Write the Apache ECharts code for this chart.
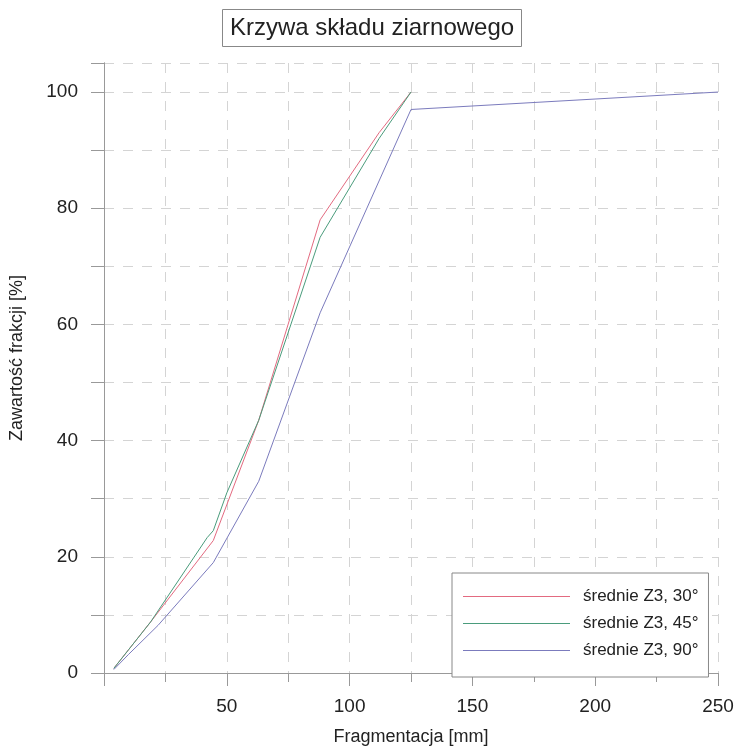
<!DOCTYPE html>
<html>
<head>
<meta charset="utf-8">
<title>Krzywa składu ziarnowego</title>
<script src="https://cdn.jsdelivr.net/npm/echarts@6/dist/echarts.min.js"></script>
<style>
    html, body { margin: 0; padding: 0; background: #fff; }
    #chart { width: 737px; height: 751px; }
</style>
</head>
<body>
<div id="chart"></div>
<script>
// dane
var seriesNames = ['średnie Z3, 30°', 'średnie Z3, 45°', 'średnie Z3, 90°'];
var x30 = [4, 10, 19, 44.5, 63, 88, 112, 125];
var y30 = [0.8, 4, 8.8, 22.8, 43.5, 78, 93, 100];
var x45 = [4, 10, 19, 42, 44.5, 50, 63, 88, 112, 125];
var y45 = [0.8, 4, 8.8, 23.3, 24.5, 31, 43.5, 75, 92, 100];
var x90 = [4, 10, 22, 44.5, 63, 88, 125, 250];
var y90 = [0.6, 3.2, 8.2, 19, 33, 62, 97, 100];
var colors = ['#e36a80', '#4a9c7c', '#7b7bbd'];

function pairs(xs, ys) {
    var out = [];
    for (var i = 0; i < xs.length; i++) {
        out.push([xs[i], ys[i]]);
    }
    return out;
}

var fontName = 'Liberation Sans, Arial, sans-serif';
var gridDash = { color: '#d4d4d4', type: [10, 9], width: 1 };

// pozycje legendy z kolorami serii
var legendData = [];
for (var k = 0; k < seriesNames.length; k++) {
    legendData.push({ name: seriesNames[k], icon: 'rect', itemStyle: { color: colors[k], borderWidth: 0 } });
}

var chart = echarts.init(document.getElementById('chart'), null, { renderer: 'canvas' });
var option = {
    animation: false,
    backgroundColor: '#fff',
    textStyle: { fontFamily: fontName },
    title: {
        text: 'Krzywa składu ziarnowego',
        left: 222,
        top: 9,
        padding: [7, 8, 7, 8],
        borderColor: '#888',
        borderWidth: 1,
        textStyle: { fontFamily: fontName, fontSize: 24, fontWeight: 'normal', color: '#222' }
    },
    legend: {
        orient: 'vertical',
        left: 452,
        top: 573,
        padding: [15, 10, 18, 11],
        itemWidth: 107,
        itemHeight: 1,
        itemGap: 10,
        backgroundColor: '#fff',
        borderColor: '#888',
        borderWidth: 1,
        textStyle: { fontFamily: fontName, fontSize: 17, color: '#222', padding: [0, 0, 0, 8] },
        data: legendData
    },
    grid: { left: 104, right: 19, top: 63, bottom: 77, containLabel: false },
    xAxis: [{
        type: 'value',
        min: 0,
        max: 250,
        interval: 50,
        name: 'Fragmentacja [mm]',
        nameLocation: 'middle',
        nameGap: 55,
        nameTextStyle: { fontFamily: fontName, fontSize: 18, color: '#222' },
        axisLine: { show: true, lineStyle: { color: '#999', width: 1 } },
        axisTick: { show: true, length: 13, lineStyle: { color: '#999' } },
        minorTick: { show: true, splitNumber: 2, length: 6, lineStyle: { color: '#999' } },
        axisLabel: {
            margin: 24,
            fontSize: 19,
            color: '#222',
            formatter: function (v) { return v === 0 ? '' : String(v); }
        },
        splitLine: { show: true, lineStyle: gridDash },
        minorSplitLine: { show: true, lineStyle: gridDash }
    }, {
        type: 'value',
        position: 'top',
        min: 0,
        max: 250,
        interval: 25,
        axisLine: { show: true, lineStyle: { color: '#999', width: 1 } },
        axisTick: { show: true, inside: true, length: 9, lineStyle: { color: '#999' } },
        axisLabel: { show: false },
        splitLine: { show: false }
    }],
    yAxis: [{
        type: 'value',
        min: 0,
        max: 105,
        interval: 10,
        name: 'Zawartość frakcji [%]',
        nameLocation: 'middle',
        nameGap: 78,
        nameTextStyle: { fontFamily: fontName, fontSize: 18, color: '#222', padding: [0, 0, 0, 20] },
        axisLine: { show: true, lineStyle: { color: '#999', width: 1 } },
        axisTick: { show: true, length: 13, lineStyle: { color: '#999' } },
        axisLabel: {
            margin: 26,
            fontSize: 19,
            color: '#222',
            formatter: function (v) { return (v % 20 === 0 && v <= 100) ? String(v) : ''; }
        },
        splitLine: { show: true, lineStyle: gridDash }
    }, {
        type: 'value',
        position: 'right',
        min: 0,
        max: 105,
        interval: 10,
        axisLine: { show: true, lineStyle: { color: '#999', width: 1 } },
        axisTick: { show: true, inside: true, length: 7, lineStyle: { color: '#999' } },
        axisLabel: { show: false },
        splitLine: { show: false }
    }],
    series: [{
        name: seriesNames[0],
        type: 'line',
        data: pairs(x30, y30),
        symbol: 'none',
        lineStyle: { color: colors[0], width: 1 },
        itemStyle: { color: colors[0] },
        z: 3
    }, {
        name: seriesNames[1],
        type: 'line',
        data: pairs(x45, y45),
        symbol: 'none',
        lineStyle: { color: colors[1], width: 1 },
        itemStyle: { color: colors[1] },
        z: 3
    }, {
        name: seriesNames[2],
        type: 'line',
        data: pairs(x90, y90),
        symbol: 'none',
        lineStyle: { color: colors[2], width: 1 },
        itemStyle: { color: colors[2] },
        z: 3
    }]
};
chart.setOption(option);
</script>
</body>
</html>
